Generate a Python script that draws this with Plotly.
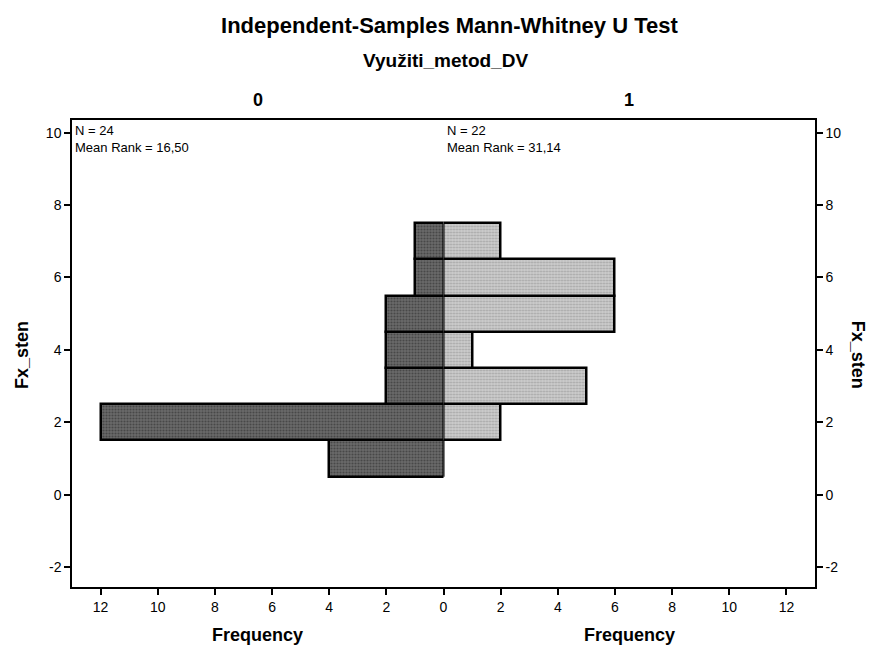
import plotly.graph_objects as go
from plotly.subplots import make_subplots

sten_values = [1, 2, 3, 4, 5, 6, 7]
freq_group0 = [4, 12, 2, 2, 2, 1, 1]
freq_group1 = [0, 2, 5, 1, 6, 6, 2]
group_labels = ["0", "1"]
n_labels = ["N = 24", "N = 22"]
mean_rank_labels = ["Mean Rank = 16,50", "Mean Rank = 31,14"]
y_ticks = [-2, 0, 2, 4, 6, 8, 10]
y_tick_text = ["-2", "0", "2", "4", "6", "8", "10"]
x_ticks_left = [0, 2, 4, 6, 8, 10, 12]
x_ticks_right = [2, 4, 6, 8, 10, 12]

FONT = "Liberation Sans, Arial, sans-serif"

fig = make_subplots(rows=1, cols=2, horizontal_spacing=0.0)

fig.add_trace(go.Bar(
    y=sten_values, x=freq_group0, orientation="h", width=1.0,
    marker=dict(color="#5a5a5a", line=dict(color="black", width=2.5),
                pattern=dict(shape=".", fgcolor="#262626", bgcolor="#6a6a6a", size=3, solidity=0.4)),
    showlegend=False), row=1, col=1)
fig.add_trace(go.Bar(
    y=sten_values, x=freq_group1, orientation="h", width=1.0,
    marker=dict(color="#bdbdbd", line=dict(color="black", width=2.5),
                pattern=dict(shape=".", fgcolor="#7a7a7a", bgcolor="#cfcfcf", size=3, solidity=0.4)),
    showlegend=False), row=1, col=2)

axis_common = dict(showgrid=False, zeroline=False, showline=True, linecolor="black",
                   linewidth=1.5, ticks="outside", ticklen=6, tickcolor="black", tickwidth=1.5,
                   tickfont=dict(family=FONT, size=14, color="black"))

fig.update_xaxes(range=[13, 0], tickvals=x_ticks_left, mirror=True, row=1, col=1, **axis_common)
fig.update_xaxes(range=[0, 13], tickvals=x_ticks_right, mirror=True, row=1, col=2, **axis_common)
fig.update_yaxes(range=[-2.55, 10.35], tickvals=y_ticks, ticktext=y_tick_text, row=1, col=1, **axis_common)
fig.update_yaxes(range=[-2.55, 10.35], tickvals=y_ticks, ticktext=y_tick_text, side="right",
                 row=1, col=2, **axis_common)

ann = []
for i, xref in enumerate(["x domain", "x2 domain"]):
    ann.append(dict(text=n_labels[i] + "<br>" + mean_rank_labels[i], xref=xref, yref="y domain",
                    x=0.004, y=0.997, xanchor="left", yanchor="top", showarrow=False, align="left",
                    font=dict(family=FONT, size=13, color="black")))
    ann.append(dict(text="<b>" + group_labels[i] + "</b>", xref=xref, yref="paper",
                    x=0.5, y=1.043, xanchor="center", yanchor="middle", showarrow=False,
                    font=dict(family=FONT, size=18, color="black")))
    ann.append(dict(text="<b>Frequency</b>", xref=xref, yref="paper",
                    x=0.5, y=-0.103, xanchor="center", yanchor="middle", showarrow=False,
                    font=dict(family=FONT, size=18, color="black")))

ann.append(dict(text="<b>Využiti_metod_DV</b>", xref="paper", yref="paper", x=0.503, y=1.128,
                xanchor="center", yanchor="middle", showarrow=False,
                font=dict(family=FONT, size=19, color="black")))
ann.append(dict(text="<b>Fx_sten</b>", xref="paper", yref="paper", x=-0.067, y=0.497,
                xanchor="center", yanchor="middle", textangle=-90, showarrow=False,
                font=dict(family=FONT, size=18, color="black")))
ann.append(dict(text="<b>Fx_sten</b>", xref="paper", yref="paper", x=1.058, y=0.497,
                xanchor="center", yanchor="middle", textangle=90, showarrow=False,
                font=dict(family=FONT, size=18, color="black")))

fig.update_layout(
    width=869, height=640,
    margin=dict(l=64, r=62, t=112, b=61),
    paper_bgcolor="white", plot_bgcolor="white",
    bargap=0,
    title=dict(text="<b>Independent-Samples Mann-Whitney U Test</b>", x=0.508, xanchor="center",
               y=1 - 17 / 640, yanchor="middle", font=dict(family=FONT, size=22, color="black")),
    annotations=ann,
)

fig.write_html("out.html")
